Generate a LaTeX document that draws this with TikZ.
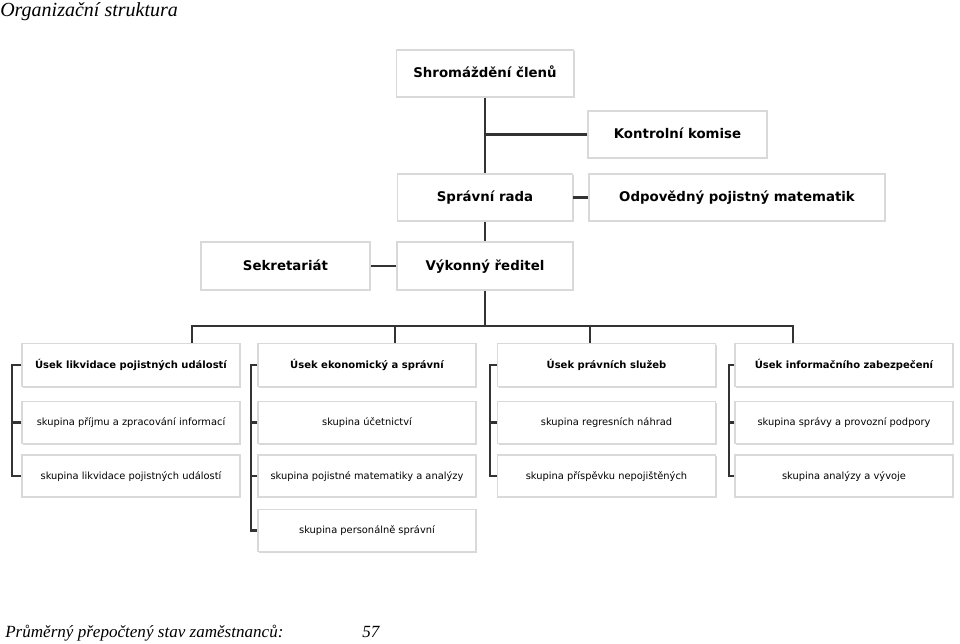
\documentclass[tikz,border=0pt]{standalone}
\usepackage{fontspec}
\setmainfont{Liberation Serif}
\newfontfamily\boxfont{DejaVu Sans}
\usetikzlibrary{shadows}
\tikzset{
  box/.style={draw=black!15, line width=1pt, fill=white, inner sep=0pt,
    drop shadow={shadow xshift=0.8pt, shadow yshift=-0.8pt, fill=black!30},
    text height=7.6pt, text depth=1.6pt,
    font=\boxfont\bfseries\fontsize{10}{12}\selectfont},
  topbox/.style={box, minimum height=35.25pt},
  headbox/.style={box, minimum width=163.5pt, minimum height=32.25pt,
    text height=5.7pt, text depth=1.2pt,
    font=\boxfont\bfseries\fontsize{7.5}{9}\selectfont},
  groupbox/.style={headbox, minimum height=31.5pt,
    font=\boxfont\fontsize{7.4}{9}\selectfont},
  link/.style={draw=black!80, line width=1.6pt},
  caption/.style={anchor=base west, inner sep=0pt, font=\itshape\fontsize{#1}{#1}\selectfont}
}
\begin{document}
\begin{tikzpicture}[x=0.75pt,y=-0.75pt]
  \useasboundingbox (0,0) rectangle (960,643);
  \node[caption=15] (title) at (0,16) {Organizační struktura};

  \node[topbox, minimum width=132.75pt] (shrom) at (485,73.5) {Shromáždění členů};
  \node[topbox, minimum width=134.25pt] (kontr) at (677.5,134.5) {Kontrolní komise};
  \node[topbox, minimum width=131.25pt] (sprava) at (485,197.5) {Správní rada};
  \node[topbox, minimum width=222pt] (matem) at (737,197.5) {Odpovědný pojistný matematik};
  \node[topbox, minimum width=126.75pt, minimum height=36pt] (sekr) at (285.5,266) {Sekretariát};
  \node[topbox, minimum width=132pt, minimum height=36pt] (reditel) at (485,266) {Výkonný ředitel};

  \node[headbox] (h1) at (131,365) {Úsek likvidace pojistných událostí};
  \node[groupbox] (g11) at (131,422.5) {skupina příjmu a zpracování informací};
  \node[groupbox] (g12) at (131,476) {skupina likvidace pojistných událostí};

  \node[headbox] (h2) at (367,365) {Úsek ekonomický a správní};
  \node[groupbox] (g21) at (367,422.5) {skupina účetnictví};
  \node[groupbox] (g22) at (367,476) {skupina pojistné matematiky a analýzy};
  \node[groupbox] (g23) at (367,530.5) {skupina personálně správní};

  \node[headbox] (h3) at (606.5,365) {Úsek právních služeb};
  \node[groupbox] (g31) at (606.5,422.5) {skupina regresních náhrad};
  \node[groupbox] (g32) at (606.5,476) {skupina příspěvku nepojištěných};

  \node[headbox] (h4) at (844,365) {Úsek informačního zabezpečení};
  \node[groupbox] (g41) at (844,422.5) {skupina správy a provozní podpory};
  \node[groupbox] (g42) at (844,476) {skupina analýzy a vývoje};

  \coordinate (bar) at (485,326);
  \coordinate (d1) at (192,326);
  \coordinate (d2) at (395,326);
  \coordinate (d3) at (590,326);
  \coordinate (d4) at (793,326);

  \draw[link] (shrom.south) -- (sprava.north);
  \draw[link] (kontr.west) -- (kontr.west -| shrom.south);
  \draw[link] (sprava.east) -- (matem.west);
  \draw[link] (sprava.south) -- (reditel.north);
  \draw[link] (sekr.east) -- (reditel.west);
  \draw[link] (reditel.south) -- (bar);
  \draw[link] (h1.north -| d1) |- (d4) -- (h4.north -| d4);
  \draw[link] (d2) -- (h2.north -| d2);
  \draw[link] (d3) -- (h3.north -| d3);

  \draw[link] (h1.west) -- ++(-9,0) |- (g12.west);
  \draw[link] (g11.west) -- ++(-9,0);
  \draw[link] (h2.west) -- ++(-6,0) |- (g23.west);
  \draw[link] (g21.west) -- ++(-6,0);
  \draw[link] (g22.west) -- ++(-6,0);
  \draw[link] (h3.west) -- ++(-7,0) |- (g32.west);
  \draw[link] (g31.west) -- ++(-7,0);
  \draw[link] (h4.west) -- ++(-5,0) |- (g42.west);
  \draw[link] (g41.west) -- ++(-5,0);

  \node[caption=12.8] (staff) at (5,637) {Průměrný přepočtený stav zaměstnanců:};
  \node[caption=12.8] (count) at (362,637) {57};
\end{tikzpicture}
\end{document}
